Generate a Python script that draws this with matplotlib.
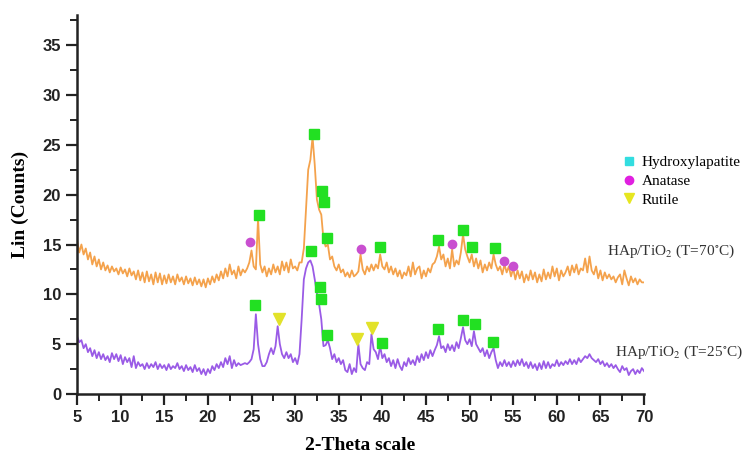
import numpy as np
import matplotlib
matplotlib.use("Agg")
import matplotlib.pyplot as plt
from matplotlib.lines import Line2D
from matplotlib.ticker import MultipleLocator

plt.rcParams['mathtext.fontset'] = 'stix'

# 2-theta grid (0.25 deg steps) from 5 to 70
theta = np.arange(5.0, 70.0001, 0.25)

# HAp/TiO2 (T=70 C) counts
y70 = [
    15.5, 14.2, 15.0, 14.0,  14.6, 13.5, 14.2, 13.0,  13.8, 12.8, 13.5, 12.5,
    13.2, 12.4, 12.9, 12.2,  12.8, 12.3, 12.6, 12.0,  12.7, 12.1, 12.5, 11.8,
    12.6, 11.9, 12.3, 11.5,  12.4, 11.4, 12.2, 11.2,  12.3, 11.3, 12.0, 11.0,
    12.2, 11.2, 12.1, 11.0,  11.9, 11.1, 12.0, 11.2,  11.8, 11.0, 12.0, 11.3,
    11.7, 11.0, 11.8, 11.1,  11.6, 10.9, 11.7, 11.0,  11.5, 10.8, 11.5, 10.7,
    11.6, 11.0, 11.8, 11.2,  12.0, 11.4, 12.3, 11.6,  12.6, 11.8, 13.0, 12.0,
    12.4, 11.6, 12.8, 11.9,  12.5, 12.2, 12.6, 13.2,  14.4, 12.8, 12.5, 17.6,
    13.0, 12.2, 12.8, 11.8,  12.6, 12.0, 13.0, 12.2,  12.8, 12.0, 13.3, 12.4,
    13.2, 12.2, 13.5, 12.6,  12.8, 12.4, 13.2, 13.2,  14.6, 18.5, 22.5, 23.5,
    25.8, 23.0, 19.5, 18.5,  18.0, 15.5, 14.8, 15.0,  13.5, 13.8, 12.8, 12.4,
    13.0, 12.2, 12.5, 11.8,  12.2, 11.7, 12.4, 11.8,  12.0, 12.3, 14.0, 12.5,
    12.0, 12.8, 12.3, 13.0,  12.4, 13.0, 12.6, 14.0,  12.8, 12.5, 13.2, 12.2,
    12.8, 12.0, 12.6, 11.8,  12.4, 11.6, 12.2, 11.9,  12.8, 11.8, 13.2, 12.0,
    12.6, 12.8, 11.6, 12.4,  11.8, 12.6, 12.2, 13.0,  13.2, 13.8, 14.8, 13.5,
    14.0, 12.8, 13.6, 12.6,  14.5, 12.8, 13.4, 13.0,  14.2, 16.0, 14.5, 13.8,
    13.2, 14.0, 12.8, 13.6,  12.6, 13.4, 12.2, 13.0,  12.4, 13.2, 12.6, 14.0,
    13.0, 12.4, 12.8, 12.0,  13.0, 12.2, 12.8, 11.8,  12.6, 11.5, 12.4, 11.6,
    12.3, 11.2, 12.0, 11.4,  12.4, 11.5, 12.2, 11.2,  12.0, 11.3, 12.5, 11.5,
    12.2, 11.6, 12.8, 11.8,  12.6, 11.4, 12.4, 11.8,  12.2, 12.8, 11.9, 12.9,
    12.2, 13.0, 12.0, 12.6,  12.4, 13.6, 12.2, 13.8,  12.4, 12.0, 12.8, 11.6,
    12.4, 11.4, 12.2, 11.6,  12.0, 11.5, 11.8, 11.2,  11.7, 12.0, 11.0, 12.4,
    11.6, 10.9, 11.8, 11.2,  11.6, 11.0, 11.5, 11.2,  11.2,
]

# HAp/TiO2 (T=25 C) counts
y25 = [
    5.8, 5.2, 5.4, 4.6,  5.0, 4.2, 4.6, 3.8,  4.4, 3.6, 4.2, 3.5,
    4.0, 3.4, 3.8, 3.2,  4.1, 3.5, 4.0, 3.3,  3.9, 3.0, 3.7, 3.2,
    3.6, 2.7, 3.8, 2.6,  3.2, 2.8, 3.0, 2.5,  3.1, 2.6, 3.0, 2.7,
    3.2, 2.5, 3.0, 2.6,  2.9, 2.4, 3.0, 2.5,  2.8, 2.6, 3.1, 2.5,
    2.8, 2.3, 2.9, 2.4,  2.7, 2.2, 2.9, 2.3,  2.6, 2.0, 2.5, 1.9,
    2.5, 2.1, 2.8, 2.4,  3.0, 2.6, 3.2, 2.7,  3.6, 3.0, 3.8, 2.6,
    3.4, 2.8, 3.1, 2.9,  3.0, 3.1, 3.0, 3.2,  3.5, 4.5, 8.0, 5.0,
    3.5, 2.8, 2.8, 3.2,  4.0, 4.6, 4.0, 4.8,  6.8, 5.0, 4.0, 3.6,
    4.2, 3.6, 4.0, 3.2,  3.6, 3.0, 4.0, 7.5,  11.5, 12.6, 13.2, 13.4,
    12.8, 11.5, 10.1, 9.0,  7.5, 4.8, 4.9, 5.4,  4.6, 3.5, 4.0, 3.2,
    3.6, 3.0, 3.4, 2.4,  2.2, 3.0, 2.0, 2.6,  2.2, 5.0, 3.0, 2.6,
    2.4, 3.2, 3.0, 6.0,  4.5, 4.2, 3.5, 4.8,  3.6, 4.0, 3.2, 3.6,
    2.8, 3.4, 2.6, 3.5,  2.8, 2.4, 3.2, 2.8,  3.6, 3.0, 3.4, 2.9,
    3.8, 3.2, 4.0, 3.4,  4.2, 3.6, 4.4, 3.8,  4.4, 4.9, 5.8, 4.6,
    4.8, 4.2, 5.0, 4.4,  4.9, 4.3, 5.2, 4.6,  5.6, 6.7, 5.4, 5.0,
    5.5, 4.8, 6.3, 5.0,  4.6, 4.2, 4.6, 3.8,  4.4, 3.6, 4.2, 4.6,
    3.4, 2.6, 3.2, 2.8,  3.4, 2.8, 3.2, 2.7,  3.3, 2.8, 3.4, 2.9,
    3.5, 2.8, 3.2, 2.6,  3.2, 2.6, 3.0, 2.4,  3.1, 2.5, 3.3, 2.6,
    3.2, 2.6, 3.0, 2.8,  3.4, 2.8, 3.2, 2.9,  3.3, 3.0, 3.5, 3.0,
    3.4, 3.0, 3.6, 3.2,  3.5, 3.8, 3.6, 4.0,  3.6, 3.4, 3.2, 3.5,
    3.0, 3.3, 2.8, 3.1,  2.7, 3.0, 2.6, 2.9,  2.5, 2.2, 2.8, 2.4,
    2.6, 1.9, 2.3, 2.5,  2.0, 2.4, 2.1, 2.6,  2.3,
]

# Phase markers (2-theta, marker height)
hap70_x = [25.9, 32.2, 33.1, 33.3, 33.6, 39.7, 46.4, 49.2, 50.3, 52.9]
hap70_y = [18.0, 26.1, 20.4, 19.3, 15.7, 14.7, 15.5, 16.5, 14.7, 14.6]
ana70_x = [24.8, 37.5, 48.0, 54.0, 55.0]
ana70_y = [15.3, 14.5, 15.1, 13.3, 12.8]
hap25_x = [25.4, 31.8, 32.8, 33.0, 33.7, 40.0, 46.4, 49.3, 50.6, 52.7]
hap25_y = [8.9, 14.3, 10.7, 9.5, 5.9, 5.1, 6.5, 7.4, 7.0, 5.2]
rut25_x = [28.1, 37.1, 38.8]
rut25_y = [7.5, 5.5, 6.6]

label70 = r"HAp/TiO$_2$ (T=70$^{\circ}$C)"
label25 = r"HAp/TiO$_2$ (T=25$^{\circ}$C)"
legend_labels = ["Hydroxylapatite", "Anatase", "Rutile"]

orange = "#F4A24C"
purple = "#9A5BE6"
green = "#22E022"
magenta = "#C94FD0"
yellow = "#E2E22A"

fig = plt.figure(figsize=(7.48, 4.58), dpi=100)
ax = fig.add_axes([0.103, 0.1397, 0.758, 0.827])

ax.plot(theta, y70, color=orange, lw=1.3)
ax.plot(theta, y25, color=purple, lw=1.3)

ax.plot(hap70_x, hap70_y, 's', color=green, ms=6.5, ls='none')
ax.plot(ana70_x, ana70_y, 'o', color=magenta, ms=6, ls='none')
ax.plot(hap25_x, hap25_y, 's', color=green, ms=6.5, ls='none')
ax.plot(rut25_x, rut25_y, 'v', color=yellow, ms=8, ls='none')

ax.set_xlim(5, 70)
ax.set_ylim(0, 38)
ax.xaxis.set_major_locator(MultipleLocator(5))
ax.xaxis.set_minor_locator(MultipleLocator(2.5))
ax.yaxis.set_major_locator(MultipleLocator(5))
ax.yaxis.set_minor_locator(MultipleLocator(2.5))

for s in ['top', 'right']:
    ax.spines[s].set_visible(False)
for s in ['left', 'bottom']:
    ax.spines[s].set_linewidth(1.8)
    ax.spines[s].set_color('#222222')

ax.tick_params(which='major', direction='out', length=8, width=1.6, colors='#222222')
ax.tick_params(which='minor', direction='out', length=5, width=1.4, colors='#222222')
for lab in ax.get_xticklabels() + ax.get_yticklabels():
    lab.set_fontfamily('Liberation Sans')
    lab.set_fontweight('bold')
    lab.set_fontsize(12)

ax.set_xlabel("2-Theta scale", fontfamily='Liberation Serif', fontweight='bold',
              fontsize=14, labelpad=9)
ax.set_ylabel("Lin (Counts)", fontfamily='Liberation Serif', fontweight='bold',
              fontsize=14, labelpad=10)

fig.text(0.811, 0.452, label70, fontfamily='Liberation Serif', fontsize=11,
         color='#333333', va='center', ha='left')
fig.text(0.822, 0.231, label25, fontfamily='Liberation Serif', fontsize=11,
         color='#333333', va='center', ha='left')

handles = [
    Line2D([], [], marker='s', color='#33DDE0', ls='none', ms=6),
    Line2D([], [], marker='o', color='#E020E0', ls='none', ms=6),
    Line2D([], [], marker='v', color='#E6E620', ls='none', ms=7),
]
leg = fig.legend(handles, legend_labels, loc='upper left',
                 bbox_to_anchor=(0.815, 0.69), frameon=False,
                 handlelength=0.8, handletextpad=0.4, labelspacing=0.32,
                 prop={'family': 'Liberation Serif', 'size': 11})

fig.savefig("out.png", dpi=100, facecolor='white')
